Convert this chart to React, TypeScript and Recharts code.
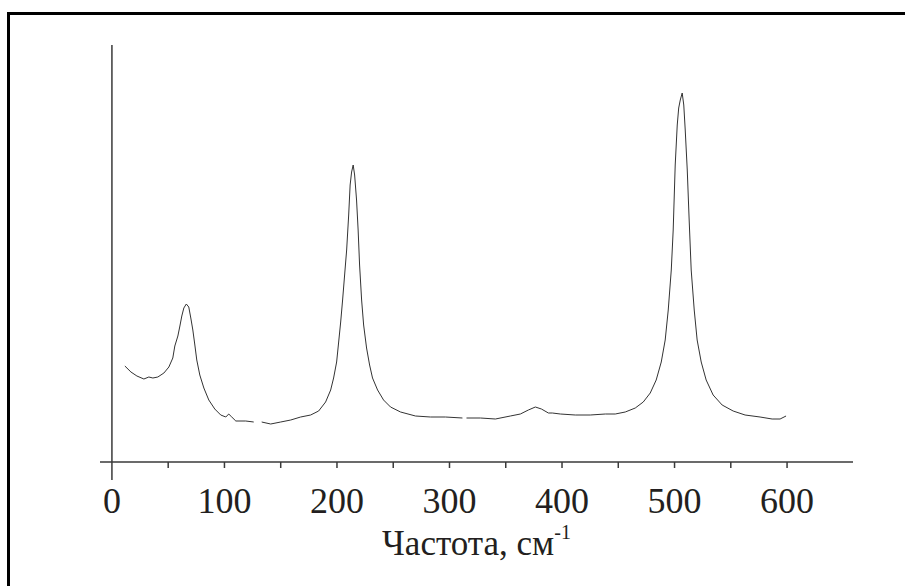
import { LineChart, Line, XAxis, YAxis, ReferenceLine } from 'recharts'

// Raman spectrum. null = gap in the trace
const shift: number[] = [
  11.5, 16.9, 22.2, 28.4, 32.8, 36.4, 40.8, 46.2, 50.6, 54.1, 55.9, 58.6, 60.4, 62.1, 63.9, 66.1,
  68.3, 70.1, 71.9, 73.7, 75.4, 78.1, 81.7, 86.1, 91.4, 96.7, 101.2, 103.8, 106.5, 110.1, 118.9, 126.0,
  129.5,
  133.1, 141.1, 150.0, 158.9, 167.7, 176.6, 183.7, 189.9, 194.4, 197.0, 199.7, 201.5, 203.3, 205.0,
  206.8, 208.6, 210.4, 211.7, 213.0, 214.4, 215.7, 217.4, 218.8, 220.1, 221.9, 223.7, 226.3, 229.0,
  231.6, 236.1, 241.4, 247.6, 256.5, 269.8, 283.1, 296.4, 311.5,
  313.3,
  315.1, 327.5, 340.8, 354.1, 363.0, 370.1, 376.3, 381.7, 387.9, 391.4, 398.5, 411.8, 425.1, 438.5,
  447.3, 456.2, 465.1, 472.2, 478.4, 483.7, 488.2, 491.7, 494.4, 497.1, 498.8, 500.6, 502.4, 503.7,
  505.1, 506.8, 508.2, 509.5, 511.3, 513.0, 514.8, 517.5, 520.1, 523.7, 528.1, 534.3, 542.3, 552.1,
  562.7, 576.0, 586.7, 593.8, 599.1,
]
const intensity: (number | null)[] = [
  96, 90, 86, 83, 85, 84, 85, 89, 95, 104, 116, 126, 136, 146, 154, 158,
  155, 144, 132, 117, 102, 87, 74, 62, 53, 47, 45, 48, 45, 41, 41, 40,
  null,
  40, 38, 40, 42, 45, 47, 51, 60, 72, 84, 100, 120, 140, 162,
  187, 212, 247, 277, 290, 297, 287, 262, 232, 197, 162, 137, 114, 97,
  84, 72, 62, 55, 50, 46, 45, 45, 44,
  null,
  44, 44, 43, 46, 48, 52, 55, 53, 49, 49, 48, 47, 47, 48,
  48, 50, 54, 60, 69, 82, 100, 122, 152, 192, 232, 297, 337, 354,
  362, 369, 357, 332, 292, 242, 192, 152, 122, 100, 82, 67, 57, 51,
  47, 45, 43, 43, 46,
]

const xTicks = [0, 50, 100, 150, 200, 250, 300, 350, 400, 450, 500, 550, 600]

const data = shift.map((s, i) => ({ s, v: intensity[i] }))

const serif = '"Liberation Serif", "Times New Roman", serif'

function Tick(props: any) {
  const { x, y, payload } = props
  const val = payload.value as number
  const len = val === 0 ? 18 : 6
  return (
    <g>
      <line x1={x} x2={x} y1={y} y2={y + len} stroke="#3a3a3a" strokeWidth={1.5} />
      {val % 100 === 0 && (
        <text x={x} y={y + 51} textAnchor="middle" fontFamily={serif} fontSize={36} fill="#231f20">
          {val}
        </text>
      )}
    </g>
  )
}

function AxisTitle(props: any) {
  const { x, y, width } = props.viewBox
  return (
    <text x={x + width / 2} y={y + 93} textAnchor="middle" fontFamily={serif} fontSize={35} fill="#231f20">
      <tspan>Частота, см</tspan>
      <tspan fontSize={20} dy={-16}>-1</tspan>
    </text>
  )
}

export default function App() {
  return (
    <div style={{ position: 'absolute', left: 0, top: 0, width: 905, height: 586, background: '#fff' }}>
      <div
        style={{
          position: 'absolute',
          left: 7,
          top: 12,
          width: 898,
          height: 574,
          borderTop: '3px solid #000',
          borderLeft: '3px solid #000',
        }}
      />
      <div style={{ position: 'absolute', left: 0, top: 0 }}>
        <LineChart width={905} height={586} data={data} margin={{ top: 45, right: 52, left: 100, bottom: 64 }}>
          <XAxis
            type="number"
            dataKey="s"
            domain={[-10.6, 658.6]}
            ticks={xTicks}
            interval={0}
            height={60}
            tickSize={0}
            tickMargin={0}
            tickLine={false}
            axisLine={{ stroke: '#3a3a3a', strokeWidth: 1.5 }}
            tick={<Tick />}
            label={<AxisTitle />}
          />
          <YAxis type="number" domain={[0, 417]} hide />
          <ReferenceLine x={0} stroke="#3a3a3a" strokeWidth={1.5} />
          <Line
            type="linear"
            dataKey="v"
            stroke="#333"
            strokeWidth={1}
            dot={false}
            connectNulls={false}
            isAnimationActive={false}
          />
        </LineChart>
      </div>
    </div>
  )
}
